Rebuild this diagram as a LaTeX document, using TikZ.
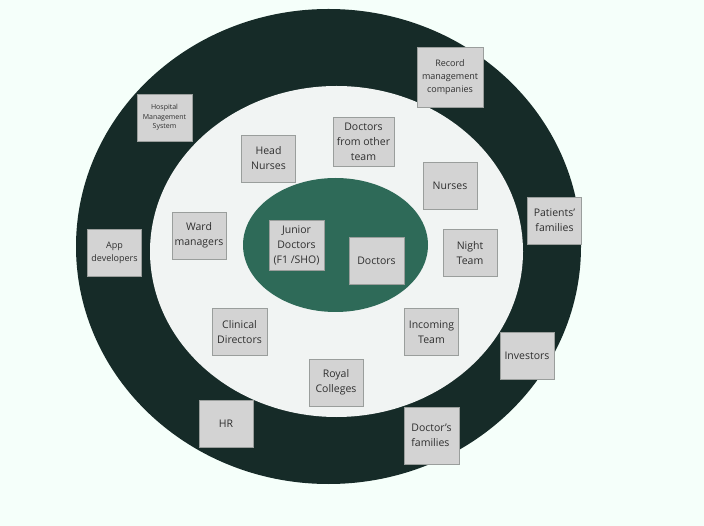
\documentclass[tikz,border=0pt]{standalone}
\usepackage{fontspec}
\setmainfont{Open Sans}
\usepackage{tikz}
\definecolor{mintback}{HTML}{F5FFFA}
\definecolor{outerring}{HTML}{162B28}
\definecolor{middlering}{HTML}{F1F4F3}
\definecolor{innercore}{HTML}{2E6A58}
\definecolor{boxfill}{HTML}{D3D3D3}
\definecolor{boxline}{HTML}{9A9E9C}
\definecolor{labeltext}{HTML}{2F2F2F}

\begin{document}
\begin{tikzpicture}[x=1pt,y=-1pt]
      \tikzstyle{stake}=[draw=boxline,fill=boxfill,line width=0.8pt,
        minimum width=54pt,minimum height=47pt,inner sep=0pt,align=center,
        text=labeltext,font=\fontsize{10.5}{15}\selectfont]
      \fill[mintback] (0,0) rectangle (704,526);
      \useasboundingbox (0,0) rectangle (704,526);
      % the three rings
      \fill[outerring] (328.5,246.5) ellipse (252.5 and 237.5);
      \fill[middlering] (336.5,251.5) ellipse (186.5 and 165.5);
      \fill[innercore] (335.5,245) ellipse (92.5 and 67);
      % outer ring
      \node[stake,minimum width=55pt,font=\fontsize{7}{9.5}\selectfont] (hms) at (164.5,117.5) {Hospital\\Management\\System};
      \node[stake,minimum width=66pt,minimum height=60pt,font=\fontsize{9}{13}\selectfont] (records) at (450,77) {Record\\management\\companies};
      \node[stake,font=\fontsize{9}{13}\selectfont] (appdev) at (114.5,252.5) {App\\developers};
      \node[stake] (pfamilies) at (554.5,220.5) {Patients’\\families};
      \node[stake] (investors) at (527,355.5) {Investors};
      \node[stake] (hr) at (226,424) {HR};
      \node[stake,minimum width=55pt,minimum height=57pt,align=left] (dfamilies) at (431.5,435.5) {Doctor’s\\families};
      % middle ring
      \node[stake] (headnurses) at (268.5,158.5) {Head\\Nurses};
      \node[stake,minimum width=61pt,minimum height=49pt] (otherteam) at (363.5,141.5) {Doctors\\from other\\team};
      \node[stake] (nurses) at (450,186) {Nurses};
      \node[stake] (ward) at (199,235.5) {Ward\\managers};
      \node[stake] (night) at (470,253) {Night\\Team};
      \node[stake,minimum width=55pt] (clinical) at (239.5,332) {Clinical\\Directors};
      \node[stake] (incoming) at (431.5,332) {Incoming\\Team};
      \node[stake] (royal) at (336,382.5) {Royal\\Colleges};
      % inner core
      \node[stake,minimum width=55pt,minimum height=50pt] (junior) at (296.5,245) {Junior\\Doctors\\(F1 /SHO)};
      \node[stake,minimum width=55pt] (doctors) at (376.5,260.5) {Doctors};
\end{tikzpicture}
\end{document}
